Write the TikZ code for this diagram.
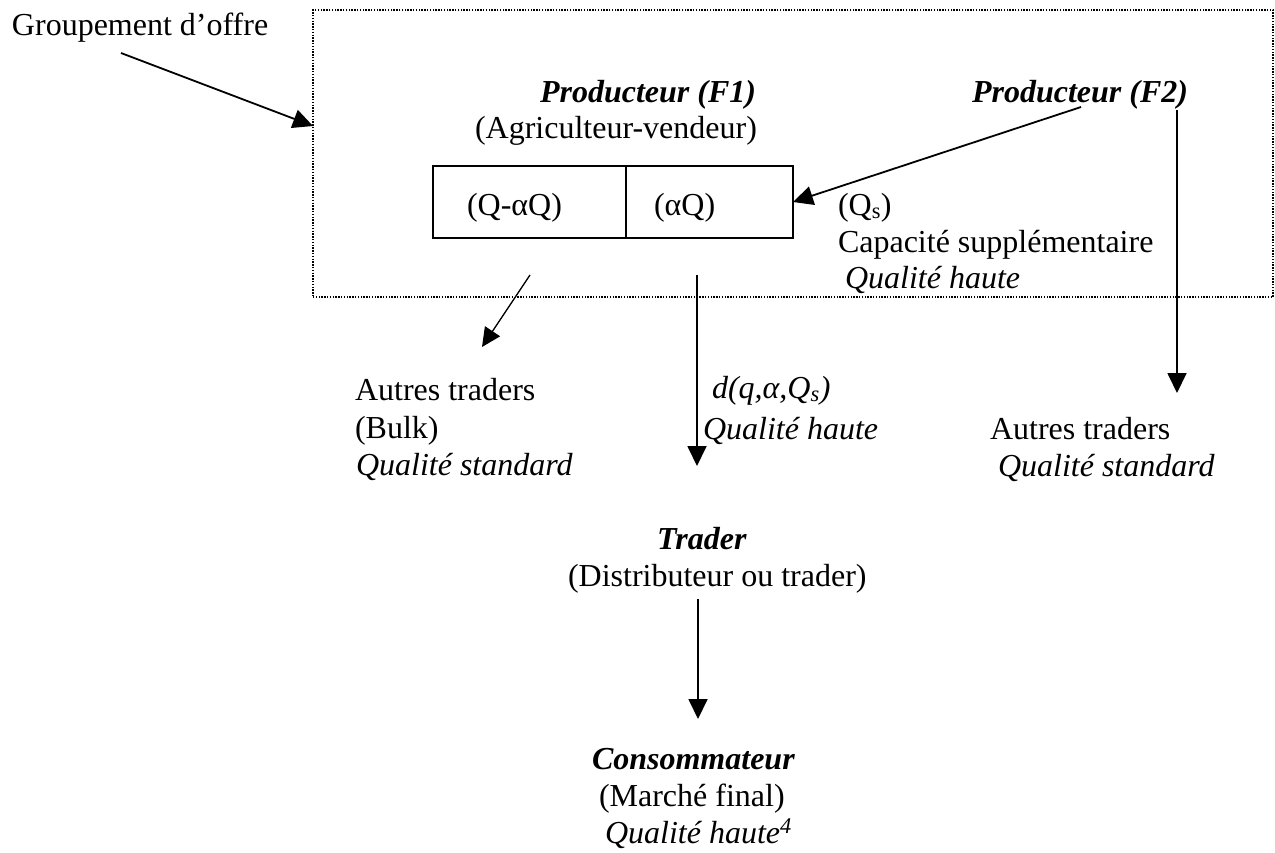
\documentclass[tikz,border=0pt]{standalone}
\usepackage{fontspec}
\setmainfont{Liberation Serif}
\usetikzlibrary{arrows.meta}
\begin{document}
\begin{tikzpicture}[x=1pt,y=-1pt,
  every node/.style={font=\fontsize{32pt}{37pt}\selectfont, inner sep=0pt, outer sep=0pt},
  txt/.style={anchor=base west},
  bi/.style={txt, font=\fontsize{32pt}{37pt}\selectfont\bfseries\itshape},
  it/.style={txt, font=\fontsize{32pt}{37pt}\selectfont\itshape},
  dotbox/.style={draw, line width=1.3pt, dash pattern=on 1.4pt off 1.4pt},
  cell/.style={draw, line width=1.8pt, minimum height=72pt, anchor=north west},
  arr/.style={-{Triangle[length=20pt,width=19pt]}, line width=1.8pt},
  thinarr/.style={-{Triangle[length=19pt,width=18pt]}, line width=1.3pt}
]
\useasboundingbox (0,0) rectangle (1275,852);

% dotted grouping box
\node[dotbox, minimum width=960pt, minimum height=287pt, anchor=north west] (box) at (313,10) {};

% texts
\node[txt] (grp) at (12,35) {Groupement d’offre};
\node[bi] (prod1) at (540,102) {Producteur (F1)};
\node[txt] (agri) at (475,138) {(Agriculteur-vendeur)};
\node[bi] (prod2) at (972,102) {Producteur (F2)};

% split rectangle
\node[cell, minimum width=193pt] (cellL) at (433,166) {};
\node[cell, minimum width=167pt] (cellR) at (626,166) {};
\node[txt] (qaq) at (467,215) {(Q-αQ)};
\node[txt] (aq) at (654,215) {(αQ)};

\node[txt] (qs) at (838,215) {(Q\textsubscript{s})};
\node[txt] (cap) at (838,252) {Capacité supplémentaire};
\node[it] (qh1) at (845,288) {Qualité haute};

\node[txt] (aut1) at (355,400) {Autres traders};
\node[txt] (bulk) at (355,438) {(Bulk)};
\node[it] (qstd1) at (356,475) {Qualité standard};

\node[it] (dfun) at (712,398) {d(q,α,Q\textsubscript{s})};
\node[it] (qh2) at (703,439) {Qualité haute};

\node[txt] (aut2) at (990,439) {Autres traders};
\node[it] (qstd2) at (998,476) {Qualité standard};

\node[bi] (trader) at (657,549) {Trader};
\node[txt] (dist) at (568,586) {(Distributeur ou trader)};

\node[bi] (cons) at (592,769) {Consommateur};
\node[txt] (marche) at (599,806) {(Marché final)};
\node[it] (qh3) at (605,843) {Qualité haute\textsuperscript{4}};

% connector ends
\coordinate (grpS) at (121,53);
\coordinate (boxIn) at (313,126);
\coordinate (f2S) at (1081,107);
\coordinate (bulkS) at (530,275);
\coordinate (bulkE) at (482,347);
\coordinate (midS) at (697,275);
\coordinate (midE) at (697,466);
\coordinate (f2dS) at (1177,110);
\coordinate (f2dE) at (1177,393);
\coordinate (trS) at (698,599);
\coordinate (trE) at (698,719);

% connectors
\draw[arr] (grpS) -- (boxIn);
\draw[arr] (f2S) -- (cellR.east);
\draw[thinarr] (bulkS) -- (bulkE);
\draw[arr] (midS) -- (midE);
\draw[arr] (f2dS) -- (f2dE);
\draw[arr] (trS) -- (trE);
\end{tikzpicture}
\end{document}
